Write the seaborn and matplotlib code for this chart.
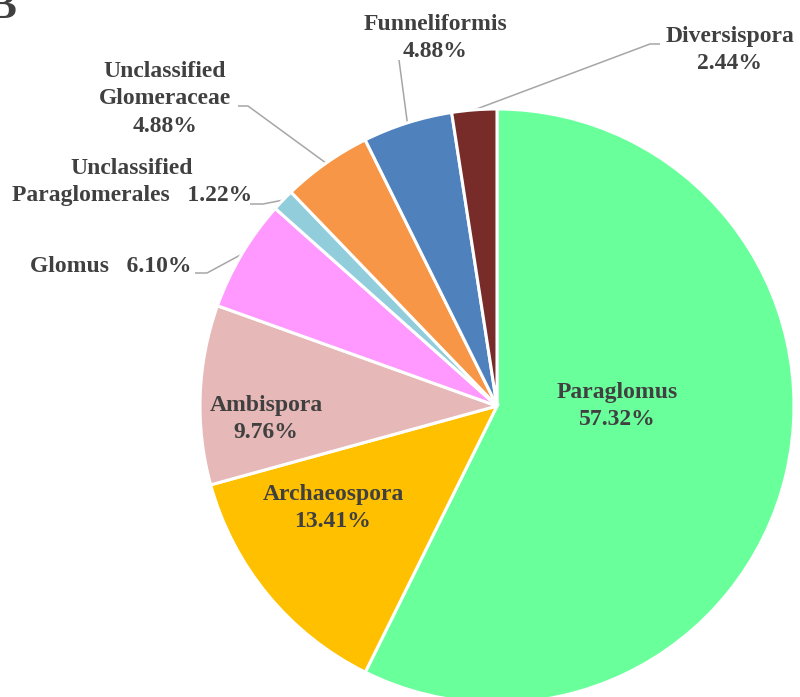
import numpy as np
import matplotlib
matplotlib.use("Agg")
import matplotlib.pyplot as plt
import seaborn as sns

# data
genera = ["Paraglomus", "Archaeospora", "Ambispora", "Glomus",
          "Unclassified\nParaglomerales", "Unclassified\nGlomeraceae",
          "Funneliformis", "Diversispora"]
percent = [57.32, 13.41, 9.76, 6.10, 1.22, 4.88, 4.88, 2.44]
colors = ["#69FF9B", "#FFC000", "#E6B8B7", "#FF99FF",
          "#92CDDC", "#F79646", "#4F81BD", "#772C2A"]

sns.set_theme(style="white")
plt.rcParams['font.family'] = ['Liberation Serif', 'DejaVu Serif']

W, H = 800, 697
fig = plt.figure(figsize=(8, 6.97), dpi=100)
ax = fig.add_axes([0, 0, 1, 1])

def P(x, y):
    # pixel (from top-left) -> data
    return x, H - y

cx, cy = P(497, 406)
R = 297
wedges, _ = ax.pie(percent, colors=colors, startangle=90, counterclock=False,
                   center=(cx, cy), radius=R, frame=True,
                   wedgeprops=dict(edgecolor='white', linewidth=2.2))
ax.set_xlim(0, W)
ax.set_ylim(0, H)
ax.set_aspect('equal')
ax.axis('off')

txt = dict(fontsize=17, fontweight='bold', color='#404040', linespacing=1.4)

# (index, label format, label centre in px, alignment, leader points before the wedge)
layout = [
    (0, "Paraglomus\n{:.2f}%", (617, 406), 'center', None),
    (1, "Archaeospora\n{:.2f}%", (333, 508), 'center', None),
    (2, "Ambispora\n{:.2f}%", (266, 419), 'center', None),
    (3, "Glomus   {:.2f}%", (191, 267), 'right', [(195, 273), (207, 273)]),
    (4, "Unclassified\nParaglomerales   {:.2f}%", (132, 182), 'center', [(250, 204), (263, 204)]),
    (5, "Unclassified\nGlomeraceae\n{:.2f}%", (165, 99), 'center', [(238, 106), (248, 106)]),
    (6, "Funneliformis\n{:.2f}%", (435, 38), 'center', [(399, 60)]),
    (7, "Diversispora\n{:.2f}%", (730, 50), 'center', [(660, 44), (650, 44)]),
]

for i, fmt, pos, ha, leader in layout:
    x, y = P(*pos)
    ax.text(x, y, fmt.format(percent[i]), ha=ha, va='center', multialignment='center', **txt)
    if leader is not None:
        w = wedges[i]
        th = np.deg2rad((w.theta1 + w.theta2) / 2)
        ex, ey = cx + R * np.cos(th), cy + R * np.sin(th)
        pts = [P(*p) for p in leader] + [(ex, ey)]
        ax.plot([p[0] for p in pts], [p[1] for p in pts], color='#A6A6A6', lw=1.1,
                solid_capstyle='butt', zorder=0.5)

# panel letter, partly cut off at top-left as in the source figure
x, y = P(16, 18)
ax.text(x, y, "B", fontsize=30, fontweight='bold', color='#404040', ha='right', va='baseline')

fig.savefig("out.png", dpi=100)
